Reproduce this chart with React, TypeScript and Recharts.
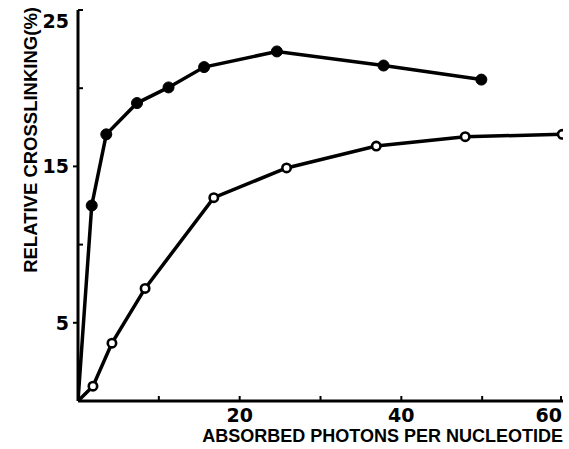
import React from 'react';
import { LineChart, Line, XAxis, YAxis } from 'recharts';

const filledX = [0, 1.7, 3.5, 7.3, 11.2, 15.6, 24.6, 37.8, 49.9];
const filledY = [0, 12.5, 17.05, 19.05, 20.05, 21.35, 22.35, 21.45, 20.55];
const openX = [0, 1.85, 4.2, 8.3, 16.8, 25.8, 36.9, 47.9, 59.9];
const openY = [0, 0.95, 3.7, 7.2, 13.0, 14.9, 16.3, 16.9, 17.05];

const xTicks = [10, 20, 30, 40, 50, 60];
const xLabels = [20, 40, 60];
const yTicks = [5, 10, 15, 20, 25];
const yLabels = [5, 15, 25];

const xTitle = 'ABSORBED PHOTONS PER NUCLEOTIDE';
const yTitle = 'RELATIVE CROSSLINKING(%)';

const filledData = filledX.map((x, i) => ({ x, y: filledY[i] }));
const openData = openX.map((x, i) => ({ x, y: openY[i] }));

const FONT = '"DejaVu Sans", "Liberation Sans", Arial, sans-serif';
const TITLE_FONT = '"Liberation Sans", Arial, sans-serif';

const XTick = (props: any) => {
  const { x, y, payload } = props;
  const v = payload.value;
  const show = xLabels.includes(v);
  return (
    <g>
      <line x1={x} x2={x} y1={y} y2={y - 5} stroke="#000" strokeWidth={2} />
      {show && (
        <text
          x={v === 60 ? x + 1 : x}
          y={y + 21}
          textAnchor={v === 60 ? 'end' : 'middle'}
          fontFamily={FONT}
          fontWeight="bold"
          fontSize={19}
          fill="#000"
        >
          {v}
        </text>
      )}
    </g>
  );
};

const YTick = (props: any) => {
  const { x, y, payload } = props;
  const v = payload.value;
  const show = yLabels.includes(v);
  return (
    <g>
      {show && v !== 25 ? (
        <line x1={x} x2={x - 5} y1={y} y2={y} stroke="#000" strokeWidth={2} />
      ) : (
        <line x1={x} x2={x + 5} y1={y} y2={y} stroke="#000" strokeWidth={2} />
      )}
      {show && (
        <text
          x={x - 9}
          y={v === 25 ? y + 18 : y + 7}
          textAnchor="end"
          fontFamily={FONT}
          fontWeight="bold"
          fontSize={19}
          fill="#000"
        >
          {v}
        </text>
      )}
    </g>
  );
};

const FilledDot = (props: any) => {
  const { cx, cy, index } = props;
  if (index === 0) return <g key={`f${index}`} />;
  return <circle key={`f${index}`} cx={cx} cy={cy} r={5.5} fill="#000" stroke="#000" strokeWidth={1} />;
};

const OpenDot = (props: any) => {
  const { cx, cy, index } = props;
  if (index === 0) return <g key={`o${index}`} />;
  return <circle key={`o${index}`} cx={cx} cy={cy} r={4.2} fill="#fff" stroke="#000" strokeWidth={2.6} />;
};

export default function App() {
  return (
    <div style={{ position: 'absolute', left: 0, top: 0, background: '#fff' }}>
      <LineChart
        width={569}
        height={449}
        margin={{ top: 10, right: 6, left: 0, bottom: 0 }}
      >
        <XAxis
          type="number"
          dataKey="x"
          domain={[0, 60]}
          ticks={xTicks}
          height={48}
          tickSize={0}
          tickMargin={0}
          tickLine={false}
          axisLine={{ stroke: '#000', strokeWidth: 3 }}
          tick={<XTick />}
          allowDataOverflow
          label={{
            content: () => (
              <text
                x={563}
                y={442}
                textAnchor="end"
                fontFamily={TITLE_FONT}
                fontWeight="bold"
                fontSize={18}
                fill="#000"
              >
                {xTitle}
              </text>
            ),
          }}
        />
        <YAxis
          type="number"
          dataKey="y"
          domain={[0, 25]}
          ticks={yTicks}
          width={78}
          tickSize={0}
          tickMargin={0}
          tickLine={false}
          axisLine={{ stroke: '#000', strokeWidth: 3 }}
          tick={<YTick />}
          allowDataOverflow
          label={{
            content: () => (
              <text
                transform="rotate(-90)"
                x={-7}
                y={37}
                textAnchor="end"
                fontFamily={TITLE_FONT}
                fontWeight="bold"
                fontSize={18.5}
                fill="#000"
              >
                {yTitle}
              </text>
            ),
          }}
        />
        <Line
          data={filledData}
          dataKey="y"
          type="linear"
          stroke="#000"
          strokeWidth={3.5}
          dot={FilledDot}
          isAnimationActive={false}
        />
        <Line
          data={openData}
          dataKey="y"
          type="linear"
          stroke="#000"
          strokeWidth={3.5}
          dot={OpenDot}
          isAnimationActive={false}
        />
      </LineChart>
    </div>
  );
}
